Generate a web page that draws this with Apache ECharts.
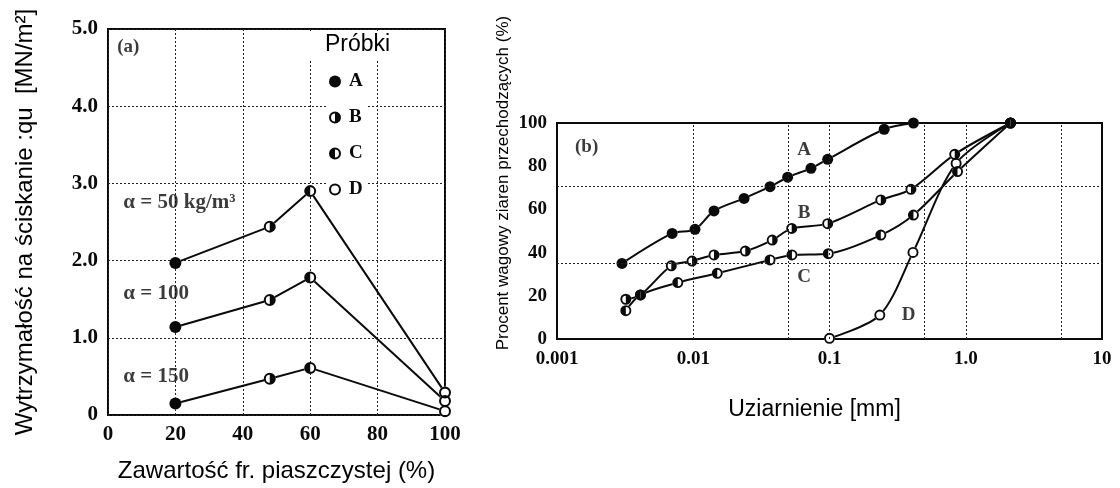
<!DOCTYPE html>
<html>
<head>
<meta charset="utf-8">
<script src="https://cdn.jsdelivr.net/npm/echarts@6/dist/echarts.min.js"></script>
<style>
  html, body { margin: 0; padding: 0; background: #fff; }
  #chart { width: 1120px; height: 488px; }
</style>
</head>
<body>
<div id="chart"></div>
<script>
// ---- Panel (a): unconfined compressive strength vs. sand fraction ----
const sandContent = [20, 48, 60, 100];          // % sand fraction
const sampleAtSand = ['A', 'B', 'C', 'D'];      // sample drawn at each sand content
const qu50 = [1.97, 2.44, 2.90, 0.29];          // MN/m², α = 50 kg/m³
const qu100 = [1.14, 1.49, 1.78, 0.18];         // α = 100
const qu150 = [0.15, 0.47, 0.61, 0.05];         // α = 150
const alphaNames = ['α = 50 kg/m³', 'α = 100', 'α = 150'];
const xTickLabelsA = ['0', '20', '40', '60', '80', '100'];
const yTickLabelsA = ['0', '1.0', '2.0', '3.0', '4.0', '5.0'];

// ---- Panel (b): grain size distribution ----
const sizeA = [0.003, 0.007, 0.0103, 0.0142, 0.0236, 0.0366, 0.0493, 0.0731, 0.097, 0.252, 0.413];
const passA = [35.0, 48.9, 50.8, 59.3, 65.1, 70.5, 74.9, 79.0, 83.2, 97.1, 100];
const sizeB = [0.0032, 0.0041, 0.0069, 0.0098, 0.0142, 0.0241, 0.038, 0.0528, 0.097, 0.238, 0.396, 0.83, 2.13];
const passB = [18.4, 20.4, 33.9, 36.1, 38.9, 40.7, 45.8, 51.2, 53.4, 64.4, 69.3, 85.5, 100];
const sizeC = [0.0032, 0.0041, 0.0077, 0.015, 0.0366, 0.053, 0.098, 0.238, 0.413, 0.87, 2.13];
const passC = [13.1, 20.4, 26.1, 30.4, 36.6, 38.9, 39.5, 48.1, 57.4, 77.5, 100];
const sizeD = [0.1, 0.234, 0.41, 0.85, 2.13];
const passD = [0.3, 11.1, 40.1, 81.3, 100];
const xTickLabelsB = ['0.001', '0.01', '0.1', '1.0', '10'];
const yTickLabelsB = ['0', '20', '40', '60', '80', '100'];
const gridSizesB = [0.005, 0.01, 0.05, 0.1, 0.5, 1, 5];
const gridPassB = [35, 70.6];

const SERIF = '"Liberation Serif", "Times New Roman", serif';
const SANS = '"Liberation Sans", Arial, sans-serif';
const INK = '#0a0a0a';

// Marker glyphs: ring with different fillings, one per sample
const RING = 'M0,10 A10,10 0 1,0 20,10 A10,10 0 1,0 0,10 Z M3.4,10 A6.6,6.6 0 1,1 16.6,10 A6.6,6.6 0 1,1 3.4,10 Z';
const ICON = {
  A: 'circle',
  B: 'path://' + RING + ' M10,3.4 A6.6,6.6 0 0,1 10,16.6 Z',
  C: 'path://' + RING + ' M10,3.4 A6.6,6.6 0 0,0 10,16.6 Z',
  D: 'path://' + RING
};

const zip = (xs, ys) => xs.map((x, i) => [x, ys[i]]);

const dotted = { type: [2, 2], color: '#222', width: 1 };
const tickFontA = { fontFamily: SERIF, fontWeight: 'bold', fontSize: 21, color: INK };
const tickFontB = { fontFamily: SERIF, fontWeight: 'bold', fontSize: 19, color: INK };
const glyphStyle = { color: INK, opacity: 1 };

const series = [];

// Panel (a): one polyline per dosage, white discs under the glyphs
[qu50, qu100, qu150].forEach((vals, k) => {
  series.push({
    name: alphaNames[k], type: 'line', xAxisIndex: 0, yAxisIndex: 0,
    data: zip(sandContent, vals), clip: false,
    symbol: 'circle', symbolSize: 12, showAllSymbol: true,
    itemStyle: { color: '#fff', borderWidth: 0, opacity: 1 },
    lineStyle: { color: INK, width: 2 }, z: 2
  });
  series.push({
    type: 'scatter', xAxisIndex: 0, yAxisIndex: 0, clip: false, z: 4,
    symbolSize: 12, itemStyle: glyphStyle,
    data: vals.map((v, i) => ({ value: [sandContent[i], v], symbol: ICON[sampleAtSand[i]] }))
  });
});

// Panel (a): text notes
series.push({
  type: 'scatter', xAxisIndex: 0, yAxisIndex: 0, z: 5, silent: true,
  symbolSize: 1, itemStyle: { color: 'rgba(0,0,0,0)' },
  label: { show: true, position: 'right', distance: 0, formatter: '{b}',
           fontFamily: SERIF, fontWeight: 'bold', fontSize: 21, color: INK },
  data: [
    { name: '(a)', value: [2.6, 4.76], label: { fontSize: 19 } },
    { name: alphaNames[0], value: [4.4, 2.75] },
    { name: alphaNames[1], value: [4.4, 1.57] },
    { name: alphaNames[2], value: [4.4, 0.50] }
  ]
});

// Panel (b): grading curves
const curves = { A: [sizeA, passA], B: [sizeB, passB], C: [sizeC, passC], D: [sizeD, passD] };
Object.keys(curves).forEach((s, idx) => {
  const pts = zip(curves[s][0], curves[s][1]);
  const line = {
    name: s + ' curve', type: 'line', xAxisIndex: 1, yAxisIndex: 1,
    data: pts, smooth: 0.3, clip: false,
    symbol: 'circle', symbolSize: 11, showAllSymbol: true,
    itemStyle: { color: '#fff', borderWidth: 0, opacity: 1 },
    lineStyle: { color: INK, width: 2 }, z: 2
  };
  if (idx === 0) {
    line.markLine = {
      silent: true, symbol: 'none', label: { show: false }, lineStyle: dotted,
      data: gridSizesB.map(v => ({ xAxis: v })).concat(gridPassB.map(v => ({ yAxis: v })))
    };
  }
  series.push(line);
  series.push({
    name: s, type: 'scatter', xAxisIndex: 1, yAxisIndex: 1, clip: false, z: 4,
    symbol: ICON[s], symbolSize: 11, itemStyle: glyphStyle, data: pts
  });
});

// Panel (b): curve letters
series.push({
  type: 'scatter', xAxisIndex: 1, yAxisIndex: 1, z: 5, silent: true,
  symbolSize: 1, itemStyle: { color: 'rgba(0,0,0,0)' },
  label: { show: true, position: 'inside', formatter: '{b}',
           fontFamily: SERIF, fontWeight: 'bold', fontSize: 19, color: INK },
  data: [
    { name: '(b)', value: [0.00165, 89] },
    { name: 'A', value: [0.065, 87.5] },
    { name: 'B', value: [0.065, 58.2] },
    { name: 'C', value: [0.065, 28.8] },
    { name: 'D', value: [0.38, 11.1] }
  ]
});

const option = {
  animation: false,
  backgroundColor: '#fff',
  grid: [
    { left: 108, top: 29, width: 337, height: 392, show: true, borderColor: INK, borderWidth: 2 },
    { left: 557, top: 123, width: 545, height: 216, show: true, borderColor: INK, borderWidth: 2 }
  ],
  xAxis: [
    {
      gridIndex: 0, type: 'value', min: 0, max: 100, interval: 20,
      axisLine: { show: false }, axisTick: { show: false },
      axisLabel: Object.assign({ margin: 9, formatter: v => xTickLabelsA[Math.round(v / 20)] }, tickFontA),
      splitLine: { show: true, lineStyle: dotted },
      name: 'Zawartość fr. piaszczystej (%)', nameLocation: 'middle', nameGap: 44,
      nameTextStyle: { fontFamily: SANS, fontSize: 24, color: '#000' }
    },
    {
      gridIndex: 1, type: 'log', logBase: 10, min: 0.001, max: 10, interval: 1,
      axisLine: { show: false }, axisTick: { show: false },
      axisLabel: Object.assign({ margin: 11, formatter: v => xTickLabelsB[Math.round(Math.log10(v)) + 3] }, tickFontB),
      splitLine: { show: false }, minorSplitLine: { show: false },
      name: 'Uziarnienie [mm]', nameLocation: 'middle', nameGap: 59,
      nameTextStyle: { fontFamily: SANS, fontSize: 23, color: '#000', padding: [0, 30, 0, 0] }
    }
  ],
  yAxis: [
    {
      gridIndex: 0, type: 'value', min: 0, max: 5, interval: 1,
      axisLine: { show: false }, axisTick: { show: false },
      axisLabel: Object.assign({ margin: 10, formatter: v => yTickLabelsA[Math.round(v)] }, tickFontA),
      splitLine: { show: true, lineStyle: dotted },
      name: 'Wytrzymałość na ściskanie :qu  [MN/m²]', nameLocation: 'middle', nameGap: 71, nameRotate: 90,
      nameTextStyle: { fontFamily: SANS, fontSize: 24, color: '#000' }
    },
    {
      gridIndex: 1, type: 'value', min: 0, max: 100, interval: 20,
      axisLine: { show: false }, axisTick: { show: false },
      axisLabel: Object.assign({ margin: 10, formatter: v => yTickLabelsB[Math.round(v / 20)] }, tickFontB),
      splitLine: { show: false }
    }
  ],
  legend: {
    data: ['A', 'B', 'C', 'D'].map(s => ({ name: s, icon: ICON[s] })),
    orient: 'vertical', left: 327, top: 71,
    itemWidth: 12, itemHeight: 12, itemGap: 17,
    backgroundColor: '#fff', padding: [1, 4, 1, 2], selectedMode: false,
    itemStyle: { opacity: 1 },
    textStyle: { fontFamily: SERIF, fontWeight: 'bold', fontSize: 19, color: INK, padding: [0, 0, 0, 3] }
  },
  graphic: [
    { type: 'rect', left: 303, top: 31, shape: { width: 96, height: 29 }, style: { fill: '#fff' }, z: 10 },
    { type: 'text', left: 325, top: 33, z: 11,
      style: { text: 'Próbki', fontFamily: SANS, fontSize: 23, fill: '#000' } },
    { type: 'text', x: 503, y: 183, rotation: Math.PI / 2, z: 11,
      style: { text: 'Procent wagowy ziaren przechodzących (%)', fontFamily: SANS, fontSize: 17,
               fill: '#000', align: 'center', verticalAlign: 'middle' } }
  ],
  series: series
};

const chart = echarts.init(document.getElementById('chart'), null, { renderer: 'canvas' });
chart.setOption(option);
</script>
</body>
</html>
